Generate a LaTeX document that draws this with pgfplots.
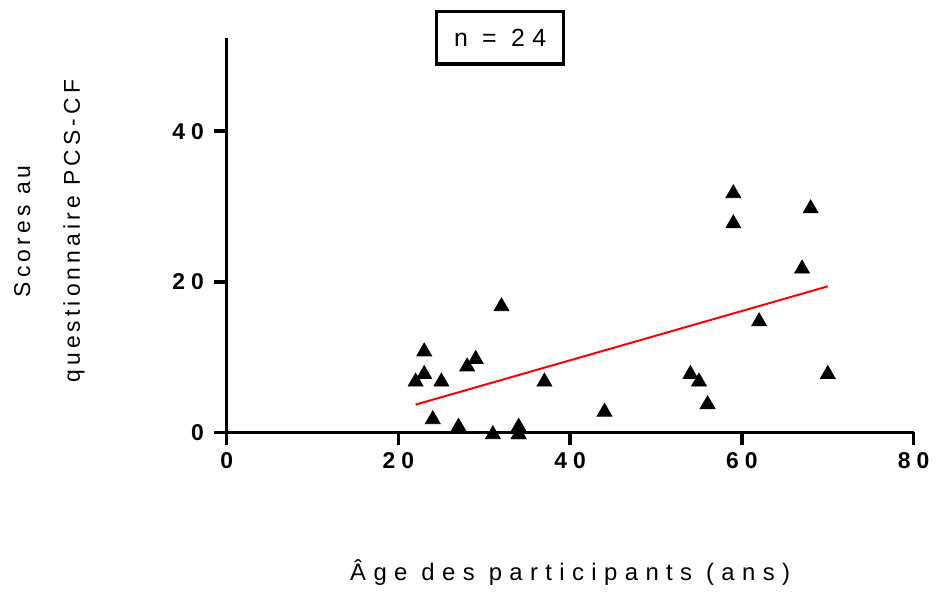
\documentclass[border=0pt]{standalone}
\usepackage{pgfplots}
\pgfplotsset{compat=1.18}
\usepackage{fontspec}
\setmainfont{Liberation Sans}
\newfontfamily\spacedx[LetterSpace=31]{Liberation Sans}
\newfontfamily\spacedy[LetterSpace=18]{Liberation Sans}
\newfontfamily\spacedt[LetterSpace=30]{Liberation Sans}
\newfontfamily\spacedbf[LetterSpace=26]{Liberation Sans Bold}
\begin{document}
\begin{tikzpicture}
\begin{axis}[
  name=ax,
  scale only axis,
  width=345.5pt, height=198.5pt,
  xmin=0, xmax=80, ymin=0, ymax=52.4,
  axis lines*=left,
  axis line style={line width=1.75pt},
  xtick={0,20,40,60,80}, ytick={0,20,40},
  tick align=outside,
  major tick length=6.5pt,
  tick style={line width=1.75pt, black},
  /pgf/number format/assume math mode=true,
  ticklabel style={font=\spacedbf\fontsize{11.5}{13}\selectfont},
  yticklabel style={xshift=-1.5pt},
  clip=false,
  xlabel={Âge des participants (ans)},
  xlabel style={font=\spacedx\fontsize{12}{14}\selectfont, at={(axis description cs:0.5,-0.355)}, anchor=center},
  ylabel={Scores au\\questionnaire PCS-CF},
  ylabel style={font=\spacedy\fontsize{11.5}{25}\selectfont, align=center, at={(axis description cs:-0.258,0.51)}, anchor=center},
  title={n = 24},
  title style={font=\spacedt\fontsize{12.5}{14}\selectfont, draw, line width=1.75pt, minimum width=63.75pt, minimum height=26.25pt, inner sep=0pt, at={(axis description cs:0.398,1.0)}, anchor=center, yshift=-6pt},
]
\addplot[only marks, mark=triangle*, mark size=4.3pt, black, mark options={yshift=-1pt}] coordinates {
(22,7) (23,11) (23,8) (24,2) (25,7) (27,1) (28,9) (29,10) (31,0) (32,17)
(34,1) (34,0) (34,0) (37,7) (44,3) (54,8) (55,7) (56,4) (59,32) (59,28)
(62,15) (67,22) (68,30) (70,8)
};
\addplot[red, line width=1pt] coordinates {(22,3.7) (70,19.4)};
\end{axis}
\path ([xshift=-114pt,yshift=-77.5pt]ax.south west) ([xshift=9.5pt,yshift=19pt]ax.north east);
\end{tikzpicture}
\end{document}
